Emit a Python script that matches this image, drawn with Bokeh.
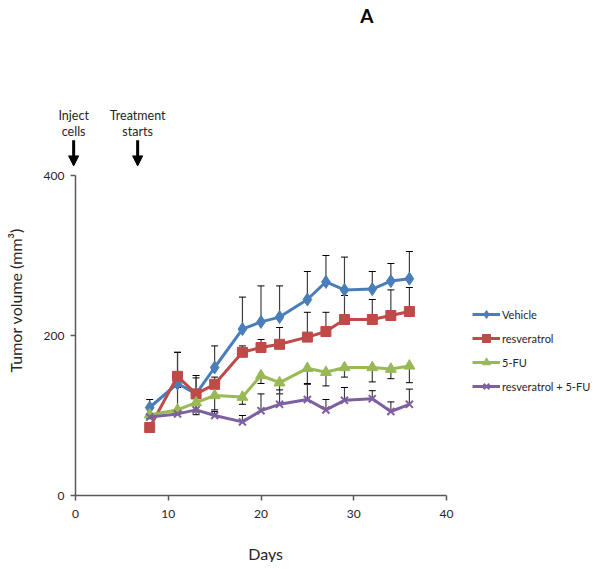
from math import pi
from bokeh.plotting import figure
from bokeh.models import (Range1d, FixedTicker, ColumnDataSource, Whisker, TeeHead,
                          Legend, LegendItem, Label, Arrow, NormalHead)
from bokeh.embed import file_html
from bokeh.resources import INLINE

# ---- data ----
days = [8, 11, 13, 15, 18, 20, 22, 25, 27, 29, 32, 34, 36]
vehicle = [110, 140, 127, 160, 208, 217, 223, 245, 267, 257, 258, 268, 271]
vehicle_err = [10, 39, 23, 27, 40, 45, 39, 35, 33, 41, 22, 22, 34]
resveratrol = [85, 149, 127, 139, 179, 185, 189, 198, 205, 220, 220, 225, 230]
resveratrol_err = [5, 30, 20, 9, 8, 10, 21, 31, 24, 30, 25, 32, 30]
fu5 = [101, 107, 116, 125, 123, 150, 141, 159, 154, 160, 160, 158, 162]
fu5_err = [5, 5, 15, 18, 9, 10, 14, 20, 17, 12, 18, 12, 21]
combo = [98, 102, 107, 100, 92, 106, 114, 120, 107, 119, 121, 105, 114]
combo_err = [3, 33, 8, 5, 8, 21, 18, 20, 13, 16, 10, 12, 19]

series_names = ["Vehicle", "resveratrol", "5-FU", "resveratrol + 5-FU"]
x_ticks = [0, 10, 20, 30, 40]
y_ticks = [0, 200, 400]
events = [("Inject", "cells", -0.2), ("Treatment", "starts", 6.7)]

FONT = "Lato"
TXT = "#262626"

W, H = 598, 562
PX_X = 371 / 40.0    # pixels per day
PX_Y = 320 / 400.0   # pixels per mm3
X0, Y0 = 75, 495     # pixel position of the origin

p = figure(width=W, height=H, output_backend="svg", toolbar_location=None,
           x_range=Range1d(-X0 / PX_X, (W - X0) / PX_X),
           y_range=Range1d(-(H - Y0) / PX_Y, Y0 / PX_Y),
           min_border=0, min_border_left=0, min_border_right=0,
           min_border_top=0, min_border_bottom=0)
p.xgrid.visible = False
p.ygrid.visible = False
p.outline_line_color = None
p.background_fill_color = "white"

for ax, ticks in ((p.xaxis[0], x_ticks), (p.yaxis[0], y_ticks)):
    ax.ticker = FixedTicker(ticks=ticks)
    ax.fixed_location = 0
    ax.bounds = (ticks[0], ticks[-1])
    ax.minor_tick_line_color = None
    ax.major_tick_in = 0
    ax.major_tick_out = 5
    ax.axis_line_color = "#595959"
    ax.axis_line_width = 1.5
    ax.major_tick_line_color = "#595959"
    ax.major_tick_line_width = 1.5
    ax.major_label_text_font = FONT
    ax.major_label_text_font_size = "12px"
    ax.major_label_text_color = TXT
p.xaxis.major_label_standoff = 9
p.yaxis.major_label_standoff = 6

def series(vals, errs, direction, color, marker, size, legend_items, name):
    src = ColumnDataSource(dict(x=days, y=vals,
                                lo=[v - e for v, e in zip(vals, errs)] if direction < 0 else vals,
                                hi=[v + e for v, e in zip(vals, errs)] if direction > 0 else vals))
    head = TeeHead(size=7, line_color="black", line_width=1)
    if direction > 0:
        w = Whisker(base="x", lower="y", upper="hi", source=src, upper_head=head,
                    lower_head=None, line_color="#404040", line_width=1.2)
    else:
        w = Whisker(base="x", lower="lo", upper="y", source=src, lower_head=head,
                    upper_head=None, line_color="#404040", line_width=1.2)
    p.add_layout(w)
    lr = p.line("x", "y", source=src, line_color=color, line_width=3)
    if marker == "x":
        sr = p.scatter("x", "y", source=src, marker="x", size=size, line_color=color, line_width=2)
    else:
        sr = p.scatter("x", "y", source=src, marker=marker, size=size, fill_color=color,
                       line_color=color, line_width=1)
    legend_items.append(LegendItem(label=name, renderers=[lr, sr]))

items = []
series(vehicle, vehicle_err, 1, "#4A7EBB", "diamond", 13, items, series_names[0])
series(resveratrol, resveratrol_err, 1, "#BE4B48", "square", 10, items, series_names[1])
series(fu5, fu5_err, -1, "#98B954", "triangle", 11, items, series_names[2])
series(combo, combo_err, 1, "#7D60A0", "x", 10, items, series_names[3])

legend = Legend(items=items, location=(472, H - 396), border_line_color=None,
                background_fill_alpha=0, padding=0, margin=0, spacing=4,
                glyph_width=28, glyph_height=20, label_height=20, label_standoff=2,
                label_text_font=FONT, label_text_font_size="11px", label_text_color=TXT)
p.add_layout(legend)

# axis titles and panel letter
p.add_layout(Label(x=-6.47, y=244, text="Tumor volume (mm³)", angle=pi / 2,
                   text_align="center", text_baseline="middle", text_font=FONT,
                   text_font_size="16px", text_color=TXT))
p.add_layout(Label(x=20.5, y=-72, text="Days", text_align="center", text_baseline="middle",
                   text_font=FONT, text_font_size="16px", text_color=TXT))
p.add_layout(Label(x=31.4, y=600, text="A", text_align="center", text_baseline="middle",
                   text_font=FONT, text_font_size="19px", text_font_style="bold", text_color="black"))

# event annotations
for l1, l2, d in events:
    p.add_layout(Label(x=d, y=475, text=l1, text_align="center", text_baseline="middle",
                       text_font=FONT, text_font_size="12.5px", text_color=TXT))
    p.add_layout(Label(x=d, y=455, text=l2, text_align="center", text_baseline="middle",
                       text_font=FONT, text_font_size="12.5px", text_color=TXT))
    p.add_layout(Arrow(x_start=d, y_start=444, x_end=d, y_end=412, line_width=3,
                       line_color="black",
                       end=NormalHead(size=10, fill_color="black", line_color="black", line_width=1)))

open("out.html", "w").write(file_html(p, INLINE))
